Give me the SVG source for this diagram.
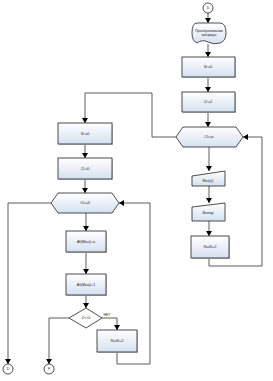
<svg xmlns="http://www.w3.org/2000/svg" width="273" height="381" viewBox="0 0 273 381">
<defs>
<linearGradient id="g" x1="0" y1="0" x2="0" y2="1">
<stop offset="0" stop-color="#ffffff"/>
<stop offset="1" stop-color="#d5e1f0"/>
</linearGradient>
<marker id="ah" markerWidth="6" markerHeight="6" refX="5" refY="3" orient="auto" markerUnits="userSpaceOnUse">
<path d="M0,0 L5,3 L0,6 Z" fill="#000"/>
</marker>
</defs>
<style>
.s{fill:url(#g);stroke:#222;stroke-width:0.8}
.c{fill:#fff;stroke:#222;stroke-width:0.8}
.sh{fill:#c8c8c8}
.l{fill:none;stroke:#333;stroke-width:0.8;marker-end:url(#ah)}
.n{fill:none;stroke:#333;stroke-width:0.8}
text{font-family:"Liberation Sans",Arial,sans-serif;font-size:3.6px;fill:#222;text-anchor:middle}
</style>
<rect width="273" height="381" fill="#fff"/>
<g id="connectors">
<path class="l" d="M208,13 V23"/>
<path class="l" d="M208,44 V57"/>
<path class="l" d="M208,77 V92"/>
<path class="l" d="M208,112 V127"/>
<path class="l" d="M209,147 V171"/>
<path class="l" d="M209,186 V203"/>
<path class="l" d="M209,221 V236"/>
<path class="l" d="M209,258 V266 H262 V137 H243"/>
<path class="l" d="M176,137 H152 V93 H85 V123"/>
<path class="l" d="M85,144 V158"/>
<path class="l" d="M85,179 V193"/>
<path class="l" d="M86,213 V231"/>
<path class="l" d="M86,252 V274"/>
<path class="l" d="M86,295 V308"/>
<path class="l" d="M51,203 H8 V364"/>
<path class="l" d="M69,318 H49 V364"/>
<path class="l" d="M102,318 H117 V330"/>
<path class="l" d="M117,352 V364 H150 V203 H119"/>
<text x="107" y="316" style="font-size:3.4px">НЕТ</text>
</g>
<g id="start">
<circle class="c" cx="208" cy="8" r="5"/>
<text x="208" y="9.3">D</text>
</g>
<g id="transform">
<path class="s" d="M197,23 H220 Q226,23 226,33 Q226,41 220,43 Q214,45 208,42 Q202,39 197,43 Q192,41 192,33 Q192,23 197,23 Z"/>
<text x="209" y="31.5">Преобразование</text>
<text x="209" y="36">матрицы</text>
</g>
<g id="r1">
<rect class="sh" x="183" y="58" width="53" height="20"/>
<rect class="s" x="182" y="57" width="53" height="20"/>
<text x="208" y="68.3">St:=0</text>
</g>
<g id="r2">
<rect class="sh" x="183" y="93" width="53" height="20"/>
<rect class="s" x="182" y="92" width="53" height="20"/>
<text x="208" y="103.3">Cl:=1</text>
</g>
<g id="rhex">
<path class="s" d="M176,137 L183,127 H236 L243,137 L236,147 H183 Z"/>
<text x="209" y="138.3">Cl&lt;=n</text>
</g>
<g id="rin">
<path class="s" d="M192,176 L225,171 V186 H192 Z"/>
<text x="208" y="181.5">Max(x)</text>
</g>
<g id="rout">
<path class="s" d="M192,207 L225,203 V221 H192 Z"/>
<text x="208" y="214">Вывод</text>
</g>
<g id="r3">
<rect class="sh" x="192" y="237" width="38" height="22"/>
<rect class="s" x="191" y="236" width="38" height="22"/>
<text x="210" y="248.3">St=St+2</text>
</g>
<g id="l1">
<rect class="sh" x="59" y="124" width="54" height="21"/>
<rect class="s" x="58" y="123" width="54" height="21"/>
<text x="85" y="134.8">St:=0</text>
</g>
<g id="l2">
<rect class="sh" x="59" y="159" width="54" height="21"/>
<rect class="s" x="58" y="158" width="54" height="21"/>
<text x="85" y="169.8">Cl:=0</text>
</g>
<g id="lhex">
<path class="s" d="M51,203 L58,193 H112 L119,203 L112,213 H58 Z"/>
<text x="85" y="204.3">Cl&lt;=3</text>
</g>
<g id="l3">
<rect class="sh" x="67" y="232" width="40" height="21"/>
<rect class="s" x="66" y="231" width="40" height="21"/>
<text x="86" y="242.8">Alt(Max)i:=i</text>
</g>
<g id="l4">
<rect class="sh" x="67" y="275" width="40" height="21"/>
<rect class="s" x="66" y="274" width="40" height="21"/>
<text x="86" y="285.8">Alt(Max)i+1</text>
</g>
<g id="dia">
<path class="c" d="M86,308 L102,318 L86,328 L69,318 Z"/>
<text x="86" y="319.3">Z&lt;&gt;0</text>
</g>
<g id="l5">
<rect class="sh" x="98" y="331" width="40" height="22"/>
<rect class="s" x="97" y="330" width="40" height="22"/>
<text x="117" y="342.3">St=St+2</text>
</g>
<g id="endD">
<circle class="c" cx="8" cy="369" r="5"/>
<text x="8" y="370.3">D</text>
</g>
<g id="endF">
<circle class="c" cx="49" cy="369" r="5"/>
<text x="49" y="370.3">F</text>
</g>
</svg>
